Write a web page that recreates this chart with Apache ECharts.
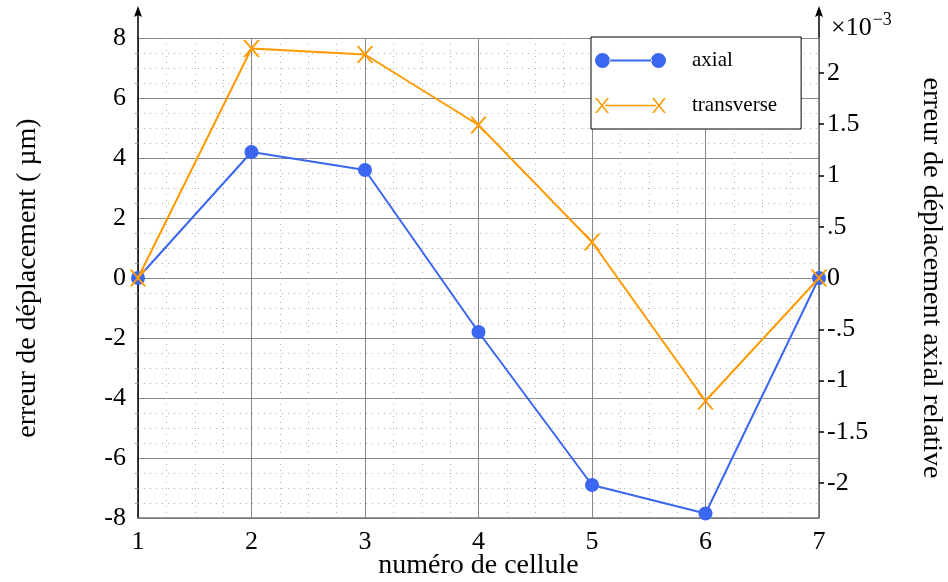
<!DOCTYPE html>
<html lang="fr">
<head>
	<meta charset="utf-8">
	<title>erreur de déplacement</title>
	<script src="https://cdn.jsdelivr.net/npm/echarts@6/dist/echarts.min.js"></script>
	<style>
		html, body { margin: 0; padding: 0; background: #fff; }
		#chart { width: 948px; height: 582px; }
	</style>
</head>
<body>
<div id="chart"></div>
<script>
// numéro de cellule
var cellules = [1, 2, 3, 4, 5, 6, 7];
// erreur de déplacement (µm)
var axial = [0, 4.2, 3.6, -1.8, -6.9, -7.85, 0];
var transverse = [0, 7.65, 7.45, 5.1, 1.2, -4.1, 0];
// graduations de l'axe de droite (x 10^-3)
var ticksDroite = [-2, -1.5, -1, -0.5, 0, 0.5, 1, 1.5, 2];

var police = 'Liberation Serif, Times New Roman, serif';
var bleu = '#3a66f0';
var orange = '#ff9a00';

var croix = 'path://M0,0 L2,0 L7,6.2 L12,0 L14,0 L8,7.5 L14,15 L12,15 L7,8.8 L2,15 L0,15 L6,7.5 Z';
var iconeAxial = 'path://M0,7.5 a7.5,7.5 0 1,0 15,0 a7.5,7.5 0 1,0 -15,0 Z M56,7.5 a7.5,7.5 0 1,0 15,0 a7.5,7.5 0 1,0 -15,0 Z M14,6.5 L57,6.5 L57,8.5 L14,8.5 Z';
var iconeTrans = 'path://M0,0 L2,0 L7,6.2 L12,0 L14,0 L8,7.5 L14,15 L12,15 L7,8.8 L2,15 L0,15 L6,7.5 Z M57,0 L59,0 L64,6.2 L69,0 L71,0 L65,7.5 L71,15 L69,15 L64,8.8 L59,15 L57,15 L63,7.5 Z M10,6.8 L61,6.8 L61,8.2 L10,8.2 Z';

function paires(ys) {
	return cellules.map(function (x, i) { return [x, ys[i]]; });
}

function etiquette(v) {
	var s = String(v);
	return s.replace('0.', '.');
}

var chart = echarts.init(document.getElementById('chart'));
chart.setOption({
	animation: false,
	textStyle: { fontFamily: police },
	title: {
		left: 826, top: 6,
		text: '{a|×10}{b|−3}',
		textStyle: {
			rich: {
				a: { fontFamily: police, fontSize: 26, fontWeight: 'normal', color: '#000', verticalAlign: 'bottom' },
				b: { fontFamily: police, fontSize: 18, fontWeight: 'normal', color: '#000', verticalAlign: 'top', padding: [0, 0, 12, 1] }
			}
		}
	},
	legend: {
		orient: 'vertical',
		left: 591, top: 37,
		padding: [13, 24, 13, 4],
		itemGap: 24,
		itemWidth: 71, itemHeight: 15,
		backgroundColor: '#fff',
		borderColor: '#000', borderWidth: 1,
		borderRadius: 0,
		textStyle: { fontFamily: police, fontSize: 21, color: '#000', padding: [0, 0, 0, 21] },
		data: [
			{ name: 'axial', icon: iconeAxial },
			{ name: 'transverse', icon: iconeTrans }
		]
	},
	grid: { left: 138, right: 129, top: 38, bottom: 64, containLabel: false, outerBoundsMode: 'none' },
	xAxis: {
		type: 'value',
		min: 1, max: 7, interval: 1,
		name: 'numéro de cellule',
		nameLocation: 'middle',
		nameGap: 34,
		nameMoveOverlap: false,
		nameTextStyle: { fontFamily: police, fontSize: 28, color: '#000' },
		axisLine: { show: true, onZero: false, lineStyle: { color: '#777', width: 1.5 } },
		axisTick: { show: false },
		axisLabel: { fontFamily: police, fontSize: 26, color: '#000', margin: 11 },
		splitLine: { show: true, lineStyle: { color: '#888', width: 1 } },
		minorTick: { show: false, splitNumber: 4 },
		minorSplitLine: { show: true, lineStyle: { color: '#b0b0b0', type: [1, 5], width: 1 } }
	},
	yAxis: [{
		type: 'value',
		min: -8, max: 8, interval: 2,
		name: 'erreur de déplacement ( µm)',
		nameLocation: 'middle',
		nameRotate: 90,
		nameGap: 96,
		nameTextStyle: { fontFamily: police, fontSize: 28, color: '#000' },
		axisLine: { show: true, onZero: false, lineStyle: { color: '#000', width: 1.5 } },
		axisTick: { show: false },
		axisLabel: { fontFamily: police, fontSize: 26, color: '#000', margin: 12 },
		splitLine: { show: true, lineStyle: { color: '#888', width: 1 } },
		minorTick: { show: true, splitNumber: 4, length: 3, lineStyle: { color: '#999' } },
		minorSplitLine: { show: true, lineStyle: { color: '#b0b0b0', type: [1, 5], width: 1 } }
	}, {
		type: 'value',
		position: 'right',
		min: -2.34, max: 2.34,
		name: 'erreur de déplacement axial relative',
		nameLocation: 'middle',
		nameRotate: -90,
		nameGap: 98,
		nameTextStyle: { fontFamily: police, fontSize: 28, color: '#000' },
		axisLine: { show: true, onZero: false, lineStyle: { color: '#666', width: 1.5 } },
		axisTick: { show: true, inside: false, length: 5, customValues: ticksDroite, lineStyle: { color: '#000', width: 1.5 } },
		axisLabel: { fontFamily: police, fontSize: 26, color: '#000', margin: 8, customValues: ticksDroite, formatter: etiquette },
		splitLine: { show: false }
	}],
	graphic: [
		{ type: 'line', shape: { x1: 138, y1: 38, x2: 138, y2: 12 }, style: { stroke: '#000', lineWidth: 1.5 } },
		{ type: 'polygon', shape: { points: [[138, 6], [134, 17], [138, 15], [142, 17]] }, style: { fill: '#000' } },
		{ type: 'line', shape: { x1: 819, y1: 38, x2: 819, y2: 12 }, style: { stroke: '#000', lineWidth: 1.5 } },
		{ type: 'polygon', shape: { points: [[819, 6], [815, 17], [819, 15], [823, 17]] }, style: { fill: '#000' } }
	],
	series: [{
		name: 'axial',
		type: 'line',
		data: paires(axial),
		symbol: 'circle',
		symbolSize: 14,
		lineStyle: { color: bleu, width: 2 },
		itemStyle: { color: bleu },
		z: 3
	}, {
		name: 'transverse',
		type: 'line',
		data: paires(transverse),
		symbol: croix,
		symbolSize: [17, 17],
		lineStyle: { color: orange, width: 2 },
		itemStyle: { color: orange },
		z: 4
	}]
});
</script>
</body>
</html>
